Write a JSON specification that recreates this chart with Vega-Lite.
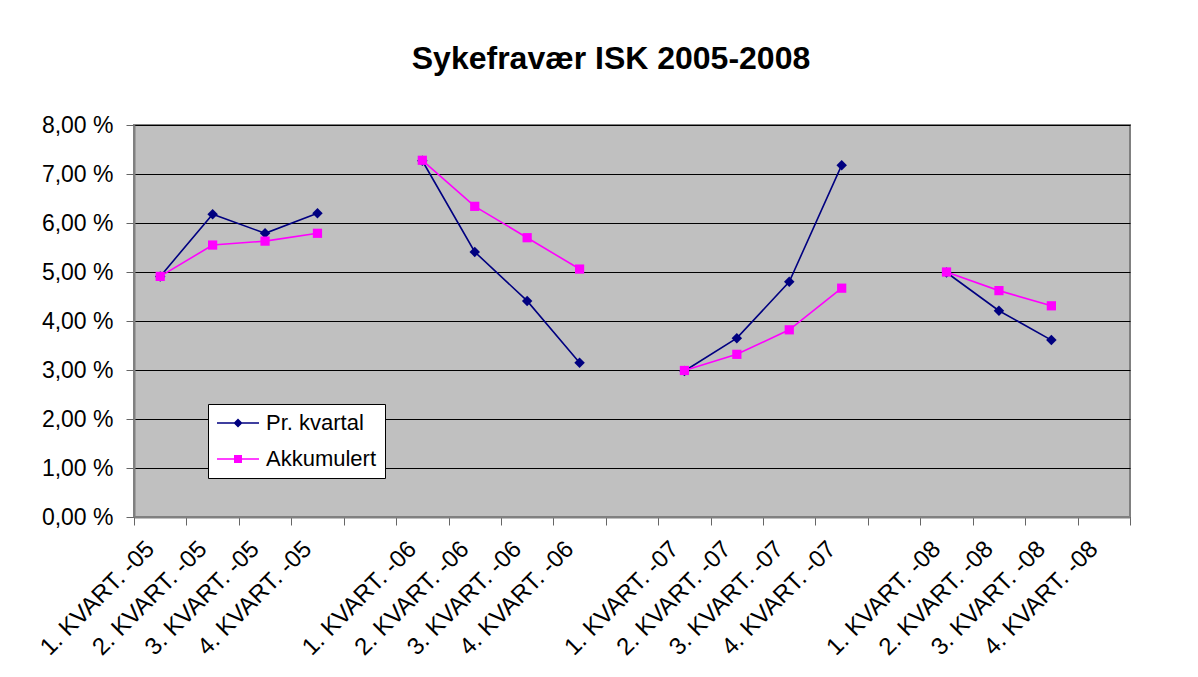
{
  "$schema": "https://vega.github.io/schema/vega-lite/v6.json",
  "autosize": "none",
  "width": 996,
  "height": 392,
  "padding": {"left": 134, "top": 125, "right": 68, "bottom": 160},
  "background": "white",
  "title": {
    "text": "Sykefravær ISK 2005-2008",
    "font": "Liberation Sans",
    "fontSize": 32,
    "fontWeight": "bold",
    "color": "black",
    "anchor": "middle",
    "baseline": "alphabetic",
    "offset": 13,
    "dx": -21
  },
  "config": {
    "view": {"fill": "#C0C0C0", "stroke": "#808080", "strokeWidth": 2},
    "axis": {"labelFont": "Liberation Sans", "labelColor": "black", "titleFont": "Liberation Sans"}
  },
  "data": {
    "values": [
      {"kvartal": "1. KVART. -05", "aar": "2005", "serie": "Pr. kvartal", "verdi": 4.91},
      {"kvartal": "2. KVART. -05", "aar": "2005", "serie": "Pr. kvartal", "verdi": 6.18},
      {"kvartal": "3. KVART. -05", "aar": "2005", "serie": "Pr. kvartal", "verdi": 5.79},
      {"kvartal": "4. KVART. -05", "aar": "2005", "serie": "Pr. kvartal", "verdi": 6.20},
      {"kvartal": "1. KVART. -06", "aar": "2006", "serie": "Pr. kvartal", "verdi": 7.27},
      {"kvartal": "2. KVART. -06", "aar": "2006", "serie": "Pr. kvartal", "verdi": 5.41},
      {"kvartal": "3. KVART. -06", "aar": "2006", "serie": "Pr. kvartal", "verdi": 4.41},
      {"kvartal": "4. KVART. -06", "aar": "2006", "serie": "Pr. kvartal", "verdi": 3.15},
      {"kvartal": "1. KVART. -07", "aar": "2007", "serie": "Pr. kvartal", "verdi": 2.98},
      {"kvartal": "2. KVART. -07", "aar": "2007", "serie": "Pr. kvartal", "verdi": 3.65},
      {"kvartal": "3. KVART. -07", "aar": "2007", "serie": "Pr. kvartal", "verdi": 4.80},
      {"kvartal": "4. KVART. -07", "aar": "2007", "serie": "Pr. kvartal", "verdi": 7.18},
      {"kvartal": "1. KVART. -08", "aar": "2008", "serie": "Pr. kvartal", "verdi": 4.99},
      {"kvartal": "2. KVART. -08", "aar": "2008", "serie": "Pr. kvartal", "verdi": 4.21},
      {"kvartal": "3. KVART. -08", "aar": "2008", "serie": "Pr. kvartal", "verdi": 3.61},
      {"kvartal": "1. KVART. -05", "aar": "2005", "serie": "Akkumulert", "verdi": 4.91},
      {"kvartal": "2. KVART. -05", "aar": "2005", "serie": "Akkumulert", "verdi": 5.55},
      {"kvartal": "3. KVART. -05", "aar": "2005", "serie": "Akkumulert", "verdi": 5.63},
      {"kvartal": "4. KVART. -05", "aar": "2005", "serie": "Akkumulert", "verdi": 5.79},
      {"kvartal": "1. KVART. -06", "aar": "2006", "serie": "Akkumulert", "verdi": 7.28},
      {"kvartal": "2. KVART. -06", "aar": "2006", "serie": "Akkumulert", "verdi": 6.34},
      {"kvartal": "3. KVART. -06", "aar": "2006", "serie": "Akkumulert", "verdi": 5.70},
      {"kvartal": "4. KVART. -06", "aar": "2006", "serie": "Akkumulert", "verdi": 5.06},
      {"kvartal": "1. KVART. -07", "aar": "2007", "serie": "Akkumulert", "verdi": 2.99},
      {"kvartal": "2. KVART. -07", "aar": "2007", "serie": "Akkumulert", "verdi": 3.32},
      {"kvartal": "3. KVART. -07", "aar": "2007", "serie": "Akkumulert", "verdi": 3.82},
      {"kvartal": "4. KVART. -07", "aar": "2007", "serie": "Akkumulert", "verdi": 4.67},
      {"kvartal": "1. KVART. -08", "aar": "2008", "serie": "Akkumulert", "verdi": 5.00},
      {"kvartal": "2. KVART. -08", "aar": "2008", "serie": "Akkumulert", "verdi": 4.62},
      {"kvartal": "3. KVART. -08", "aar": "2008", "serie": "Akkumulert", "verdi": 4.31}
    ]
  },
  "encoding": {
    "x": {
      "field": "kvartal",
      "type": "ordinal",
      "title": null,
      "scale": {
        "type": "band",
        "paddingInner": 0,
        "paddingOuter": 0,
        "domain": [
          "1. KVART. -05", "2. KVART. -05", "3. KVART. -05", "4. KVART. -05", "gap1",
          "1. KVART. -06", "2. KVART. -06", "3. KVART. -06", "4. KVART. -06", "gap2",
          "1. KVART. -07", "2. KVART. -07", "3. KVART. -07", "4. KVART. -07", "gap3",
          "1. KVART. -08", "2. KVART. -08", "3. KVART. -08", "4. KVART. -08"
        ]
      },
      "axis": {
        "labelExpr": "indexof(datum.label, 'gap') === 0 ? '' : datum.label",
        "labelAngle": -45,
        "labelAlign": "right",
        "labelBaseline": "middle",
        "labelFontSize": 24,
        "labelPadding": 20,
        "labelOffset": -10,
        "tickBand": "extent",
        "ticks": true,
        "tickSize": 8,
        "tickColor": "#666666",
        "domainColor": "#808080",
        "domainWidth": 2,
        "grid": false,
        "labelOverlap": false
      }
    },
    "y": {
      "field": "verdi",
      "type": "quantitative",
      "title": null,
      "scale": {"domain": [0, 8], "nice": false, "zero": true},
      "axis": {
        "values": [0, 1, 2, 3, 4, 5, 6, 7, 8],
        "labelExpr": "replace(format(datum.value, '.2f'), '.', ',') + ' %'",
        "labelFontSize": 23,
        "labelPadding": 13,
        "tickSize": 8,
        "tickColor": "#666666",
        "domainColor": "#808080",
        "domainWidth": 2,
        "grid": true,
        "gridColor": "black",
        "gridWidth": 1,
        "gridOpacity": 1
      }
    }
  },
  "layer": [
    {
      "mark": {"type": "line", "strokeWidth": 1.6},
      "encoding": {
        "detail": {"field": "aar", "type": "nominal"},
        "color": {
          "field": "serie",
          "type": "nominal",
          "scale": {"domain": ["Pr. kvartal", "Akkumulert"], "range": ["#000080", "#FF00FF"]},
          "legend": {
            "title": null,
            "orient": "none",
            "legendX": 74,
            "legendY": 279,
            "fillColor": "white",
            "strokeColor": "black",
            "padding": 8,
            "labelFont": "Liberation Sans",
            "labelFontSize": 22,
            "labelColor": "black",
            "symbolSize": 400,
            "symbolOffset": 11,
            "labelOffset": 17,
            "rowPadding": 14,
            "encode": {
              "symbols": {
                "update": {
                  "shape": {"signal": "datum.value === 'Pr. kvartal' ? 'M-2.1,-0.07H2.1V0.07H-2.1ZM0,-0.45L0.45,0L0,0.45L-0.45,0Z' : 'M-2.1,-0.07H2.1V0.07H-2.1ZM-0.4,-0.4H0.4V0.4H-0.4Z'"},
                  "fill": {"signal": "datum.value === 'Pr. kvartal' ? '#000080' : '#FF00FF'"},
                  "fillOpacity": {"value": 1},
                  "stroke": {"value": "transparent"},
                  "strokeWidth": {"value": 0},
                  "opacity": {"value": 1}
                }
              }
            }
          }
        }
      }
    },
    {
      "transform": [{"filter": "datum.serie === 'Pr. kvartal'"}],
      "mark": {"type": "point", "filled": true, "opacity": 1, "shape": "diamond", "size": 110, "color": "#000080"}
    },
    {
      "transform": [{"filter": "datum.serie === 'Akkumulert'"}],
      "mark": {"type": "point", "filled": true, "opacity": 1, "shape": "square", "size": 85, "color": "#FF00FF"}
    }
  ]
}
